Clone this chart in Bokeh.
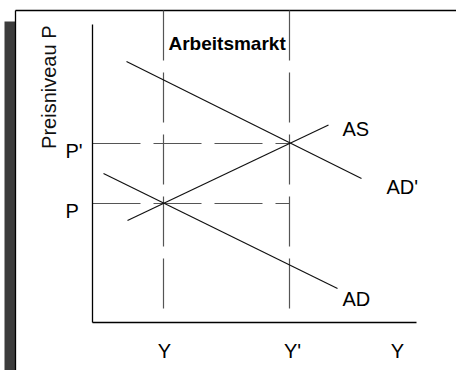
from bokeh.plotting import figure
from bokeh.models import Range1d
from bokeh.core.properties import value
from bokeh.embed import file_html
from bokeh.resources import INLINE
import math

# ---- data (diagram units; origin = axis intersection) ----
y_levels = [7.1, 19.7]          # Y, Y'
y_labels = ["Y", "Y'"]
p_levels = [11.9, 17.9]         # P, P'
p_labels = ["P", "P'"]
x_axis_end = 32.4
y_axis_end = 29.8

as_x = [3.5, 23.6]
as_y = [10.2, 19.75]
ad_x = [1.1, 24.5]
ad_y = [14.9, 3.4]
adp_x = [3.4, 26.9]
adp_y = [26.1, 14.4]

curve_names = ["AS", "AD", "AD'"]
title_text = "Arbeitsmarkt"
ylabel_text = "Preisniveau P"
xlabel_text = "Y"

FONT = value("Liberation Sans")

p = figure(width=456, height=370, output_backend="svg", toolbar_location=None,
           x_range=Range1d(-9.2, 36.4), y_range=Range1d(-4.8, 32.2),
           min_border=0, min_border_left=0, min_border_right=0,
           min_border_top=0, min_border_bottom=0)
p.axis.visible = False
p.grid.visible = False
p.outline_line_color = None
p.background_fill_color = "white"
p.border_fill_color = "white"

# slide frame
p.quad(left=[-8.8], right=[-7.7], bottom=[-5.0], top=[30.1],
       fill_color="#3c3c3c", line_color=None)
p.line([-7.7, 36.6], [31.2, 31.2], line_color="black", line_width=1.3)
p.line([-7.7, -7.7], [-5.0, 31.2], line_color="black", line_width=1.3)

# dashed guide lines
for yl in y_levels:
    p.line([yl, yl], [1.4, 32.4], line_color="#555555", line_width=1.2,
           line_dash="50 12")
for pl in p_levels:
    p.line([0, y_levels[1]], [pl, pl], line_color="#555555", line_width=1.2,
           line_dash="48 13")

# axes
p.line([0, 0], [0, y_axis_end], line_color="black", line_width=1.3)
p.line([0, x_axis_end], [0, 0], line_color="black", line_width=1.3)

# curves
p.line(as_x, as_y, line_color="#111111", line_width=1.2)
p.line(ad_x, ad_y, line_color="#111111", line_width=1.2)
p.line(adp_x, adp_y, line_color="#111111", line_width=1.2)

# curve labels
p.text(x=[25.0, 25.0, 29.4], y=[19.4, 2.4, 13.6], text=curve_names,
       text_font=FONT, text_font_size="20px", text_color="black",
       text_align="left", text_baseline="alphabetic")

# Y tick labels
p.text(x=[y_levels[0] + 0.1, y_levels[1] + 0.3, 30.5], y=[-2.8, -2.8, -2.8],
       text=y_labels + [xlabel_text],
       text_font=FONT, text_font_size="20px", text_color="black",
       text_align="center", text_baseline="alphabetic")

# P tick labels
p.text(x=[-2.7, -2.7], y=[p_levels[0] - 0.7, p_levels[1] - 0.7], text=p_labels,
       text_font=FONT, text_font_size="20px", text_color="black",
       text_align="left", text_baseline="alphabetic")

# title
p.text(x=[7.6], y=[27.9], text=[title_text], text_font=FONT,
       text_font_size="19px", text_font_style="bold", text_color="black",
       text_align="left", text_baseline="alphabetic")

# rotated y label
p.text(x=[-4.4], y=[29.7], text=[ylabel_text], angle=math.pi / 2,
       text_font=FONT, text_font_size="20px",
       text_color="#111111", text_align="right", text_baseline="alphabetic")

open("out.html", "w").write(file_html(p, INLINE))
